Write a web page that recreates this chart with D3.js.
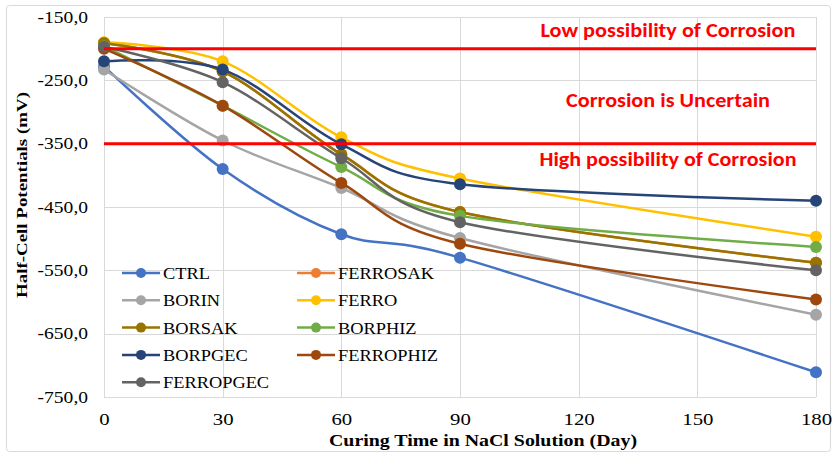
<!DOCTYPE html>
<html><head><meta charset="utf-8">
<script src="https://cdn.jsdelivr.net/npm/d3@7"></script>
</head><body style="margin:0"><svg id="c" width="837" height="454" style="display:block"></svg>
<script>
const days = [0, 30, 60, 90, 180];
const xTicks = [0, 30, 60, 90, 120, 150, 180];
const yTicks = [-150, -250, -350, -450, -550, -650, -750];
const seriesNames = ["CTRL","FERROSAK","BORIN","FERRO","BORSAK","BORPHIZ","BORPGEC","FERROPHIZ","FERROPGEC"];
const seriesColors = ["#4472C4","#ED7D31","#A5A5A5","#FFC000","#997300","#70AD47","#264478","#9E480E","#636363"];
const CTRL      = [-228, -390, -493, -530, -711];
const FERROSAK  = [-191, -236, -367, -458, -538];
const BORIN     = [-233, -345, -420, -499, -620];
const FERRO     = [-190, -220, -340, -405, -497];
const BORSAK    = [-191, -236, -367, -458, -538];
const BORPHIZ   = [-196, -290, -387, -464, -513];
const BORPGEC   = [-220, -233, -351, -414, -440];
const FERROPHIZ = [-200, -290, -412, -508, -596];
const FERROPGEC = [-197, -253, -373, -474, -550];
const seriesValues = [CTRL, FERROSAK, BORIN, FERRO, BORSAK, BORPHIZ, BORPGEC, FERROPHIZ, FERROPGEC];
const limits = [-200, -350];
const zoneLabels = [
  {text: "Low possibility of Corrosion", v: -181, w: 255},
  {text: "Corrosion is Uncertain", v: -292, w: 204},
  {text: "High possibility of Corrosion", v: -386, w: 257}
];

const SERIF = "Liberation Serif";
const svg = d3.select("#c");
const L = 104, R = 816, T = 17, B = 397;
const x = d3.scaleLinear().domain([0, 180]).range([L, R]);
const y = d3.scaleLinear().domain([-750, -150]).range([B, T]);

svg.append("rect").attr("x", 6.5).attr("y", 5.5).attr("width", 824).attr("height", 446)
  .attr("rx", 3).attr("fill", "#fff").attr("stroke", "#d9d9d9");

const grid = svg.append("g").attr("stroke", "#d9d9d9").attr("stroke-width", 1);
yTicks.forEach(t => grid.append("line").attr("x1", L).attr("x2", R).attr("y1", Math.round(y(t))+0.5).attr("y2", Math.round(y(t))+0.5));
xTicks.forEach(t => grid.append("line").attr("y1", T).attr("y2", B).attr("x1", Math.round(x(t))+0.5).attr("x2", Math.round(x(t))+0.5));

function stretch(sel, f) {
  sel.each(function() {
    const w = this.getComputedTextLength();
    d3.select(this).attr("textLength", w * f).attr("lengthAdjust", "spacingAndGlyphs");
  });
}

const ya = svg.append("g").attr("transform", `translate(${L},0)`)
  .call(d3.axisLeft(y).tickValues(yTicks).tickSize(0).tickPadding(16).tickFormat(d => d3.format(".1f")(d).replace(".", ",").replace("−","-")));
ya.select(".domain").remove();
ya.attr("font-family", SERIF).attr("font-size", 16);
ya.selectAll("text").attr("fill", "#000");
stretch(ya.selectAll("text"), 1.22);

const xa = svg.append("g").attr("transform", `translate(0,${B})`)
  .call(d3.axisBottom(x).tickValues(xTicks).tickSize(0).tickPadding(17));
xa.select(".domain").remove();
xa.attr("font-family", SERIF).attr("font-size", 16);
xa.selectAll("text").attr("fill", "#000");
stretch(xa.selectAll("text"), 1.3);

const xt = svg.append("text").attr("x", 483).attr("y", 446).attr("text-anchor", "middle")
  .attr("font-family", SERIF).attr("font-weight", "bold").attr("font-size", 16.5).attr("fill", "#000")
  .text("Curing Time in NaCl Solution (Day)");
xt.attr("textLength", 308).attr("lengthAdjust", "spacingAndGlyphs");
const yt = svg.append("text").attr("transform", "translate(27,195) rotate(-90)").attr("text-anchor", "middle")
  .attr("font-family", SERIF).attr("font-weight", "bold").attr("font-size", 15.5).attr("fill", "#000")
  .text("Half-Cell Potentials (mV)");
yt.attr("textLength", 206).attr("lengthAdjust", "spacingAndGlyphs");

const line = d3.line().x((d, i) => x(days[i])).y(d => y(d)).curve(d3.curveCardinal.tension(0));
seriesValues.forEach((vals, k) => {
  const g = svg.append("g");
  g.append("path").attr("d", line(vals)).attr("fill", "none").attr("stroke", seriesColors[k]).attr("stroke-width", 2.5);
  g.selectAll("circle").data(vals).join("circle")
    .attr("cx", (d, i) => x(days[i])).attr("cy", d => y(d)).attr("r", 6).attr("fill", seriesColors[k]);
});

limits.forEach(v => svg.append("line").attr("x1", L).attr("x2", R).attr("y1", y(v)).attr("y2", y(v))
  .attr("stroke", "#ff0000").attr("stroke-width", 3));
zoneLabels.forEach(z => svg.append("text").attr("x", 668).attr("y", y(z.v))
  .attr("text-anchor", "middle").attr("font-family", "Carlito").attr("font-weight", "bold")
  .attr("font-size", 20).attr("fill", "#ff0000")
  .attr("textLength", z.w).attr("lengthAdjust", "spacingAndGlyphs").text(z.text));

// legend
const leg = svg.append("g").attr("font-family", SERIF).attr("font-size", 17);
seriesNames.forEach((n, k) => {
  const col = k % 2, row = Math.floor(k / 2);
  const lx = col === 0 ? 122 : 297, ly = 273 + row * 27.3;
  leg.append("line").attr("x1", lx).attr("x2", lx + 38).attr("y1", ly).attr("y2", ly)
    .attr("stroke", seriesColors[k]).attr("stroke-width", 2.5);
  leg.append("circle").attr("cx", lx + 19).attr("cy", ly).attr("r", 5).attr("fill", seriesColors[k]);
  const t = leg.append("text").attr("x", lx + 41).attr("y", ly).attr("dy", "0.35em")
    .attr("fill", "#000").text(n);
  stretch(t, 1.08);
});
</script></body></html>
